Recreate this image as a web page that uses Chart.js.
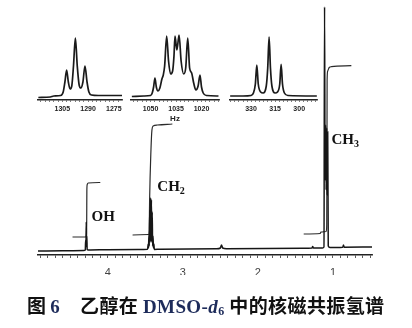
<!DOCTYPE html>
<html>
<head>
  <meta charset="utf-8" />
  <title>乙醇在 DMSO-d6 中的核磁共振氢谱</title>
  <script src="https://cdn.jsdelivr.net/npm/chart.js"></script>
  <style>
    html, body { margin: 0; padding: 0; background: #fff; }
    .wrap { position: relative; width: 412px; height: 328px; overflow: hidden; background: #fff; }
    .wrap canvas { position: absolute; top: 0; }
    #main { left: 0; }
    #in1 { left: 28px; }
    #in2 { left: 121px; }
    #in3 { left: 220px; }
    .cap { position: absolute; top: 294px; height: 22px; line-height: 22px; font-size: 19px; font-weight: bold;
      font-family: "Noto Sans CJK SC", sans-serif; color: #111; white-space: nowrap; }
    .cap .en { font-family: "Liberation Serif", serif; color: #1d2b5a; }
    .cap sub { font-size: 12px; vertical-align: -2px; }
  </style>
</head>
<body>
  <div class="wrap">
    <canvas id="main" width="412" height="328"></canvas>
    <canvas id="in1" width="104" height="120"></canvas>
    <canvas id="in2" width="108" height="124"></canvas>
    <canvas id="in3" width="107" height="120"></canvas>
    <div class="cap" style="left:27px">图 <span class="en">6</span></div>
    <div class="cap" style="left:80px; letter-spacing:0.4px">乙醇在 <span class="en">DMSO-<i>d</i><sub>6</sub></span> 中的核磁共振氢谱</div>
  </div>

  <script>
    // ---- main spectrum (ppm / intensity) ----
    const specPpm = [4.93, 4.60, 4.32, 4.30, 4.295, 4.291, 4.287, 4.283, 4.279, 4.275, 4.26, 4.0, 3.6,
      3.47, 3.462, 3.458, 3.452, 3.447, 3.441, 3.436, 3.430, 3.425, 3.419, 3.414, 3.408, 3.403, 3.397, 3.392, 3.386, 3.38,
      3.30, 2.55, 2.50, 2.485, 2.47, 2.42, 1.40, 1.28, 1.27, 1.26, 1.14,
      1.12, 1.112, 1.105, 1.098, 1.091, 1.084, 1.077, 1.070, 1.063,
      1.04, 0.87, 0.86, 0.85, 0.48];
    const specInt = [-1, -0.8, -0.5, 0, 10, 3, 28, 4, 14, 0.5, 0, 0.3, 0.5,
      0.8, 6, 2, 15, 4, 40, 8, 52, 10, 50, 8, 38, 4, 14, 2, 6, 0.5,
      0.8, 1.2, 2, 5, 2, 1.3, 1.8, 2.0, 3.5, 2, 2,
      3, 243, 70, 125, 60, 122, 55, 118, 4,
      2.5, 2.8, 5, 2.8, 3];

    // integral traces, null splits the three steps
    const integralPpm = [4.47, 4.295, 4.285, 4.281, 4.279, 4.274, 4.26, 4.10, null,
      3.67, 3.455, 3.448, 3.443, 3.425, 3.412, 3.395, 3.34, 3.14, null,
      1.39, 1.17, 1.16, 1.09, 1.083, 1.08, 1.078, 1.07, 1.05, 1.02, 0.755];
    const integralVal = [13, 13, 15, 30, 60, 65.5, 67, 67.5, null,
      15, 15.5, 20, 50, 100, 120, 124, 125, 126, null,
      16, 16.5, 18, 18.5, 25, 100, 170, 179, 182.5, 183.3, 184.3];

    const mainTickLabels = [4, 3, 2, 1];

    const peakNames = ['OH', 'CH', 'CH'];
    const peakSubs = ['', '2', '3'];
    const peakLabelPpm = [4.217, 3.34, 1.02];
    const peakLabelVal = [29, 59, 106];

    // ---- expanded multiplets (Hz / intensity) ----
    const in1Hz = [1319, 1312, 1310, 1306, 1304.5, 1303.5, 1302.5, 1301.5, 1300.5, 1299.5, 1298.5, 1297.4, 1296.3,
      1295.2, 1294.2, 1293, 1291.8, 1290.6, 1289.5, 1288, 1284, 1270];
    const in1Int = [-1.5, -1, 0, 0.5, 4, 14, 26, 14, 7, 10, 30, 58, 30,
      11, 8, 14, 30, 14, 4, 1, 0.5, 0.5];
    const in1Ticks = [1305, 1290, 1275];

    const in2Hz = [1061, 1054, 1050, 1049, 1048.2, 1047.4, 1046.6, 1045.6, 1044.5, 1043.3, 1042.5, 1041.7, 1040.5,
      1039.4, 1038.2, 1037, 1036.2, 1035.6, 1034.5, 1033.2, 1032, 1030.5, 1029.3, 1028.1, 1027, 1025.8, 1024.6,
      1023.3, 1022, 1020.9, 1020, 1019, 1017, 1010];
    const in2Int = [-0.5, 0, 0.5, 3, 9, 18, 9, 5, 8, 17, 21, 30, 60,
      35, 22, 25, 40, 60, 46, 61, 35, 22, 28, 58, 28, 23, 13,
      6, 10, 21, 9, 3, 0.5, 0];
    const in2Ticks = [1050, 1035, 1020];

    const in3Hz = [343, 335, 330, 328.5, 327.3, 326.4, 325.5, 324, 322.5, 320.5, 319.6, 318.75, 317.9,
      317, 315, 313.5, 312.1, 311.25, 310.4, 309.2, 307, 289];
    const in3Int = [0, 0, 0.5, 3, 12, 31, 12, 4, 3, 10, 28, 59, 28,
      10, 3, 4, 12, 31.7, 12, 3, 0.5, 0];
    const in3Ticks = [330, 315, 300];

    const pts = (xs, ys) => xs.map((x, i) => ({ x: x, y: ys[i] }));

    // draws OH / CH2 / CH3 next to the peaks
    const peakLabelPlugin = {
      id: 'peakLabels',
      afterDatasetsDraw(chart) {
        const ctx = chart.ctx;
        const xs = chart.scales.x, ys = chart.scales.y;
        ctx.save();
        ctx.fillStyle = '#111';
        ctx.textBaseline = 'alphabetic';
        peakNames.forEach((name, i) => {
          const px = xs.getPixelForValue(peakLabelPpm[i]);
          const py = ys.getPixelForValue(peakLabelVal[i]);
          ctx.font = 'bold 15px "Liberation Serif", serif';
          ctx.fillText(name, px, py);
          if (peakSubs[i]) {
            const w = ctx.measureText(name).width;
            ctx.font = 'bold 10px "Liberation Serif", serif';
            ctx.fillText(peakSubs[i], px + w, py + 3);
          }
        });
        ctx.restore();
      }
    };

    new Chart(document.getElementById('main'), {
      type: 'line',
      data: {
        datasets: [{
          data: pts(specPpm, specInt),
          borderColor: '#161616',
          borderWidth: 1.5,
          pointRadius: 0,
          cubicInterpolationMode: 'monotone'
        }, {
          data: pts(integralPpm, integralVal),
          borderColor: '#2a2a2a',
          borderWidth: 1.2,
          pointRadius: 0,
          spanGaps: false,
          cubicInterpolationMode: 'monotone'
        }]
      },
      options: {
        responsive: false,
        animation: false,
        layout: { padding: { left: 38, right: 40, top: 0, bottom: 53 } },
        plugins: { legend: { display: false }, tooltip: { enabled: false } },
        scales: {
          x: {
            type: 'linear',
            reverse: true,
            min: 0.48,
            max: 4.93,
            afterBuildTicks: (scale) => {
              const t = [];
              for (let i = 5; i <= 49; i++) t.push({ value: i / 10 });
              scale.ticks = t;
            },
            afterFit: (scale) => { scale.height = 20; },
            ticks: {
              autoSkip: false,
              maxRotation: 0,
              padding: 8,
              color: '#444',
              font: { family: '"Liberation Sans", sans-serif', size: 11 },
              callback: (v) => mainTickLabels.includes(Math.round(v * 10) / 10) ? String(Math.round(v)) : ''
            },
            grid: { drawOnChartArea: false, drawTicks: true, tickLength: 3, color: '#333', lineWidth: 0.8 },
            border: { display: true, color: '#222', width: 1.5 }
          },
          y: { display: false, min: -5, max: 250 }
        }
      },
      plugins: [peakLabelPlugin]
    });

    function makeInset(id, hz, inten, min, max, tickLabels, scaleH, title) {
      new Chart(document.getElementById(id), {
        type: 'line',
        data: {
          datasets: [{
            data: pts(hz, inten),
            borderColor: '#1a1a1a',
            borderWidth: 1.7,
            pointRadius: 0,
            cubicInterpolationMode: 'monotone'
          }]
        },
        options: {
          responsive: false,
          animation: false,
          layout: { padding: { left: 10, right: 10, top: 0, bottom: 0 } },
          plugins: { legend: { display: false }, tooltip: { enabled: false } },
          scales: {
            x: {
              type: 'linear',
              reverse: true,
              min: min,
              max: max,
              afterBuildTicks: (scale) => {
                const t = [];
                for (let v = Math.ceil(min / 2.5) * 2.5; v <= max; v += 2.5) t.push({ value: v });
                scale.ticks = t;
              },
              afterFit: (scale) => { scale.height = scaleH; },
              ticks: {
                autoSkip: false,
                maxRotation: 0,
                padding: 3,
                color: '#222',
                font: { family: '"Liberation Sans", sans-serif', size: 7, weight: 'bold' },
                callback: (v) => tickLabels.includes(v) ? String(v) : ''
              },
              title: {
                display: !!title,
                text: title || '',
                color: '#222',
                padding: { top: 1, bottom: 0 },
                font: { family: '"Liberation Sans", sans-serif', size: 8, weight: 'bold' }
              },
              grid: { drawOnChartArea: false, drawTicks: true, tickLength: 2, color: '#444', lineWidth: 0.7 },
              border: { display: true, color: '#222', width: 1.5 }
            },
            y: { display: false, min: -4, max: 96 }
          }
        }
      });
    }

    makeInset('in1', in1Hz, in1Int, 1270.2, 1319.2, in1Ticks, 20, '');
    makeInset('in2', in2Hz, in2Int, 1009.7, 1061.5, in2Ticks, 24, 'Hz');
    makeInset('in3', in3Hz, in3Int, 288.9, 343.1, in3Ticks, 20, '');
  </script>
</body>
</html>
